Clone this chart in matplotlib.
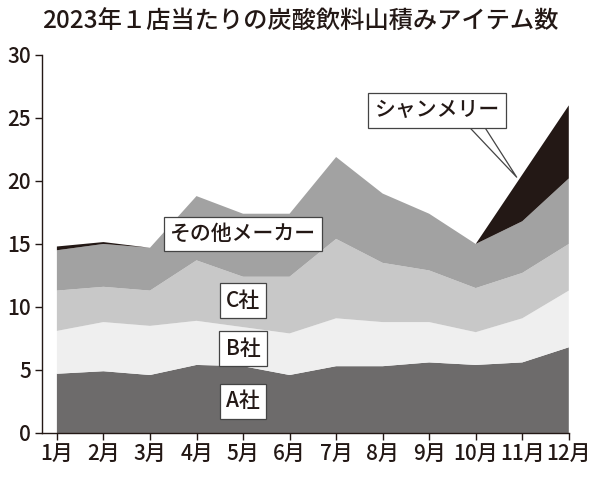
import matplotlib
matplotlib.use("Agg")
import matplotlib.pyplot as plt

plt.rcParams['font.family'] = ['Noto Sans CJK JP', 'DejaVu Sans']
plt.rcParams['font.weight'] = 'medium'

months = ["1月", "2月", "3月", "4月", "5月", "6月", "7月", "8月", "9月", "10月", "11月", "12月"]
a_sha = [4.7, 4.9, 4.6, 5.4, 5.3, 4.6, 5.3, 5.3, 5.6, 5.4, 5.6, 6.8]
b_sha = [3.4, 3.9, 3.9, 3.5, 3.1, 3.3, 3.8, 3.5, 3.2, 2.6, 3.5, 4.5]
c_sha = [3.2, 2.8, 2.8, 4.8, 4.0, 4.5, 6.3, 4.7, 4.1, 3.5, 3.6, 3.7]
others = [3.2, 3.4, 3.4, 5.1, 5.0, 5.0, 6.5, 5.5, 4.5, 3.5, 4.1, 5.2]
champ = [0.3, 0.15, 0, 0, 0, 0, 0, 0, 0, 0, 3.7, 5.8]

ink = "#231815"
colors = ["#6d6b6b", "#efefef", "#c8c8c8", "#a2a2a2", ink]

fig = plt.figure(figsize=(6, 4.82), dpi=100)
ax = fig.add_axes([0.07, 0.1017, 0.878, 0.7843])

x = list(range(1, 13))
ax.stackplot(x, a_sha, b_sha, c_sha, others, champ, colors=colors, linewidth=0)

ax.set_xlim(0.68, 12)
ax.set_ylim(0, 30)
ax.set_yticks([0, 5, 10, 15, 20, 25, 30])
ax.set_xticks(x)
ax.set_xticklabels(months)
ax.tick_params(axis="both", labelsize=15, colors=ink, length=5, width=1, direction="out")
ax.tick_params(axis="x", pad=3)
ax.tick_params(axis="y", pad=3)
for s in ["top", "right"]:
    ax.spines[s].set_visible(False)
for s in ["left", "bottom"]:
    ax.spines[s].set_color(ink)
    ax.spines[s].set_linewidth(1)

box = dict(boxstyle="square,pad=0.3", fc="white", ec="#444444", lw=0.9)
ax.text(5, 2.5, "A社", fontsize=15, color=ink, ha="center", va="center", bbox=box)
ax.text(5, 6.7, "B社", fontsize=15, color=ink, ha="center", va="center", bbox=box)
ax.text(5, 10.5, "C社", fontsize=15, color=ink, ha="center", va="center", bbox=box)
ax.text(5, 15.8, "その他メーカー", fontsize=15, color=ink, ha="center", va="center", bbox=box)

# callout tail for シャンメリー
tail_x = [9.83, 10.88, 10.17]
tail_y = [24.4, 20.3, 24.4]
ax.fill(tail_x, tail_y, color="white", zorder=3)
ax.plot(tail_x, tail_y, color="#444444", lw=0.9, zorder=3)
ax.text(9.16, 25.6, "シャンメリー", fontsize=15, color=ink, ha="center", va="center",
        bbox=box, zorder=4)

fig.text(0.5, 0.955, "2023年１店当たりの炭酸飲料山積みアイテム数", fontsize=17.5,
         color=ink, ha="center", va="center")

fig.savefig("out.png", dpi=100)
